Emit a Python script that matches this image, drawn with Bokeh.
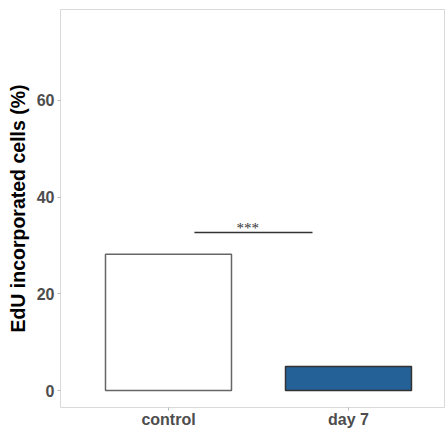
from bokeh.plotting import figure
from bokeh.models import FixedTicker, Range1d
from bokeh.embed import file_html
from bokeh.resources import INLINE

# Bar chart data
categories = ["control", "day 7"]
edu_percent = [28.2, 5.0]
bar_fill = ["white", "#236196"]
bar_line = ["#666666", "#333333"]
y_ticks = [0, 20, 40, 60]
signif_label = "***"
signif_level = 32.7

xpos = [1, 2]
tick_font = "Liberation Sans"

p = figure(width=445, height=430, output_backend="svg", toolbar_location=None,
           x_range=Range1d(0.4, 2.539), y_range=Range1d(-3.5, 78.8),
           min_border_left=60, min_border_top=9, min_border_right=0,
           min_border_bottom=0)

p.vbar(x=xpos, top=edu_percent, bottom=0, width=0.7,
       fill_color=bar_fill, line_color=bar_line, line_width=1.5)

# significance bracket
p.line(x=[1.144, 1.8], y=[signif_level, signif_level], line_color="#333333", line_width=1.5)
p.text(x=[1.44], y=[signif_level + 0.85], text=[signif_label], text_align="center",
       text_baseline="alphabetic", text_font_size="15px", text_color="#333333",
       text_font="Liberation Sans")

p.background_fill_color = "white"
p.border_fill_color = "white"
p.outline_line_color = "#d9d9d9"
p.outline_line_width = 1
p.grid.visible = False

p.xaxis.ticker = FixedTicker(ticks=xpos)
p.xaxis.major_label_overrides = {x: c for x, c in zip(xpos, categories)}
p.yaxis.ticker = FixedTicker(ticks=y_ticks)

for ax in (p.xaxis, p.yaxis):
    ax.axis_line_color = None
    ax.major_tick_line_color = "#bbbbbb"
    ax.major_tick_out = 3
    ax.major_tick_in = 0
    ax.minor_tick_line_color = None
    ax.major_label_text_font = tick_font
    ax.major_label_text_font_style = "bold"
    ax.major_label_text_color = "#4d4d4d"

p.xaxis.major_label_text_font_size = "16px"
p.xaxis.major_label_standoff = 0
p.yaxis.major_label_text_font_size = "16px"
p.yaxis.major_label_standoff = 3

p.yaxis.axis_label = "EdU incorporated cells (%)"
p.yaxis.axis_label_text_font = tick_font
p.yaxis.axis_label_text_font_style = "bold"
p.yaxis.axis_label_text_font_size = "19.5px"
p.yaxis.axis_label_text_color = "black"
p.yaxis.axis_label_standoff = 5

open("out.html", "w").write(file_html(p, INLINE))
